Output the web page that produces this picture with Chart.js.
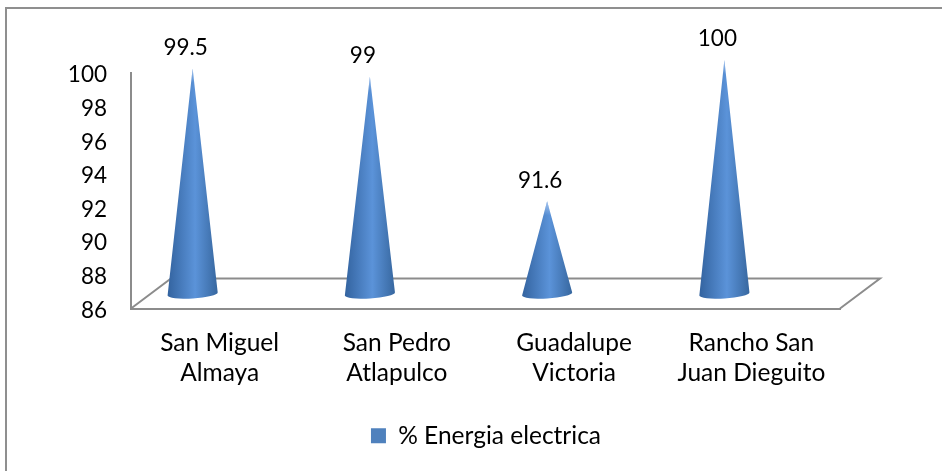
<!DOCTYPE html>
<html>
<head>
<meta charset="utf-8">
<script src="https://cdn.jsdelivr.net/npm/chart.js@4/dist/chart.umd.js"></script>
<style>
    html, body { margin: 0; padding: 0; background: #fff; }
    #box { position: relative; width: 942px; height: 471px; }
</style>
</head>
<body>
<div id="box"><canvas id="myChart"></canvas></div>
<script>
const categories = [['San Miguel', 'Almaya'], ['San Pedro', 'Atlapulco'], ['Guadalupe', 'Victoria'], ['Rancho San', 'Juan Dieguito']];
const energia = [99.5, 99, 91.6, 100];
const valueLabels = ['99.5', '99', '91.6', '100'];
const seriesName = '% Energia electrica';

const FONT = 'Lato, Carlito, sans-serif';
const AXIS_GREY = '#8c8c8c';

// fake 3d depth of the floor, cones sit part way back on it
const DEPTH_X = 40;
const DEPTH_Y = 30;
const CONE_DX = -27;
const CONE_DY = -13;
const CONE_BASE_DY = -14.5;

const conePlugin = {
    id: 'cones',
    // outer frame only has top and left edges
    beforeDraw(chart) {
        const c = chart.ctx;
        c.save();
        c.strokeStyle = '#8f8f8f';
        c.lineWidth = 2;
        c.beginPath();
        c.moveTo(942, 8);
        c.lineTo(6, 8);
        c.lineTo(6, 471);
        c.stroke();
        c.restore();
    },
    afterLayout(chart) {
        // legend sits under the plot, not under the canvas centre
        chart.legend.left += 66;
        chart.legend.right += 66;
    },
    // floor outline drawn behind the cones
    beforeDatasetsDraw(chart) {
        const { left, right, bottom } = chart.chartArea;
        const c = chart.ctx;
        c.save();
        c.strokeStyle = AXIS_GREY;
        c.lineWidth = 2;
        c.beginPath();
        c.moveTo(left, bottom);
        c.lineTo(left + DEPTH_X, bottom - DEPTH_Y);
        c.lineTo(right + DEPTH_X, bottom - DEPTH_Y);
        c.lineTo(right, bottom);
        c.stroke();
        c.restore();
    },
    // swap the flat bars for cones
    beforeDatasetDraw(chart, args) {
        const c = chart.ctx;
        const bars = args.meta.data;
        bars.forEach(function(bar, i) {
            const x = bar.x + CONE_DX;
            const tip = bar.y + CONE_DY;
            const base = bar.base + CONE_BASE_DY;
            const r = bar.width / 2;

            const grad = c.createLinearGradient(x - r, 0, x + r, 0);
            grad.addColorStop(0, '#33639f');
            grad.addColorStop(0.55, '#5b93d9');
            grad.addColorStop(1, '#37679f');

            c.save();
            c.beginPath();
            c.moveTo(x, tip);
            c.lineTo(x + r, base - 1.5);
            c.ellipse(x, base, r, 4.5, -0.06, 0, Math.PI);
            c.closePath();
            c.fillStyle = grad;
            c.fill();

            // soft highlight near the point
            const tipGrad = c.createLinearGradient(0, tip, 0, tip + 14);
            tipGrad.addColorStop(0, 'rgba(200,220,250,0.7)');
            tipGrad.addColorStop(1, 'rgba(200,220,250,0)');
            c.fillStyle = tipGrad;
            c.fill();
            c.restore();

            c.save();
            c.fillStyle = '#000';
            c.font = '22.5px ' + FONT;
            c.textAlign = 'center';
            c.textBaseline = 'middle';
            c.fillText(valueLabels[i], x - 7, tip - 21);
            c.restore();
        });
        return false;
    }
};

const data = {
    labels: categories,
    datasets: [{
        label: seriesName,
        data: energia,
        base: 86,
        backgroundColor: '#4f81bd',
        barPercentage: 0.283,
        categoryPercentage: 1
    }]
};

const options = {
    responsive: false,
    animation: false,
    layout: {
        padding: { left: 0, right: 102, top: 73, bottom: 13 }
    },
    scales: {
        x: {
            grid: { display: false, drawTicks: false },
            border: { color: AXIS_GREY, width: 2 },
            ticks: {
                color: '#000',
                padding: 20,
                maxRotation: 0,
                font: { family: FONT, size: 24.5, lineHeight: 1.22 }
            },
            afterFit: function(scale) { scale.height = 105; }
        },
        y: {
            min: 86,
            max: 100,
            grid: { display: false, drawTicks: false },
            border: { color: AXIS_GREY, width: 2 },
            ticks: {
                stepSize: 2,
                color: '#000',
                padding: 24,
                labelOffset: 2,
                font: { family: FONT, size: 22.5 }
            },
            afterFit: function(scale) { scale.width = 131; }
        }
    },
    plugins: {
        title: { display: false },
        tooltip: { enabled: false },
        legend: {
            position: 'bottom',
            labels: {
                color: '#000',
                boxWidth: 15,
                boxHeight: 15,
                font: { family: FONT, size: 24.5 }
            }
        }
    }
};

const canvas = document.getElementById('myChart');
canvas.width = 942;
canvas.height = 471;

const myChart = new Chart(canvas.getContext('2d'), {
    type: 'bar',
    data: data,
    options: options,
    plugins: [conePlugin]
});
</script>
</body>
</html>
